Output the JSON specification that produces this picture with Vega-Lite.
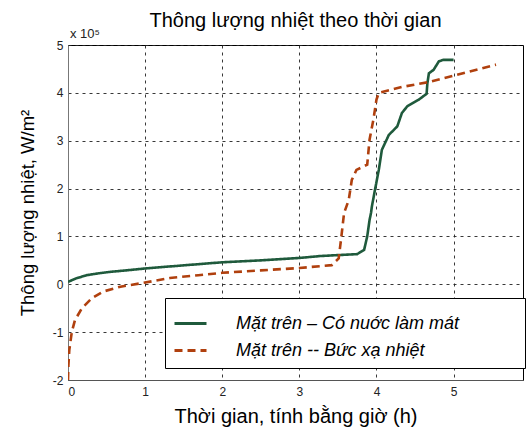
{
  "$schema": "https://vega.github.io/schema/vega-lite/v6.json",
  "width": 455,
  "height": 335,
  "autosize": "none",
  "padding": {"left": 68, "top": 45, "right": 5, "bottom": 55},
  "config": {
    "font": "Liberation Sans",
    "view": {"stroke": "#000", "strokeWidth": 1}
  },
  "title": {"text": "Thông lượng nhiệt theo thời gian", "fontSize": 20, "fontWeight": "normal", "color": "#000", "anchor": "middle", "offset": -3},
  "layer": [
    {
      "data": {"values": [
        {"t": 0, "q": 5000, "s": "Mặt trên – Có nuớc làm mát"},
        {"t": 0.1, "q": 12000, "s": "Mặt trên – Có nuớc làm mát"},
        {"t": 0.24, "q": 19000, "s": "Mặt trên – Có nuớc làm mát"},
        {"t": 0.4, "q": 23000, "s": "Mặt trên – Có nuớc làm mát"},
        {"t": 0.55, "q": 26000, "s": "Mặt trên – Có nuớc làm mát"},
        {"t": 0.75, "q": 29000, "s": "Mặt trên – Có nuớc làm mát"},
        {"t": 1.0, "q": 33000, "s": "Mặt trên – Có nuớc làm mát"},
        {"t": 1.3, "q": 37000, "s": "Mặt trên – Có nuớc làm mát"},
        {"t": 1.69, "q": 42000, "s": "Mặt trên – Có nuớc làm mát"},
        {"t": 2.0, "q": 46000, "s": "Mặt trên – Có nuớc làm mát"},
        {"t": 2.5, "q": 50000, "s": "Mặt trên – Có nuớc làm mát"},
        {"t": 3.0, "q": 55000, "s": "Mặt trên – Có nuớc làm mát"},
        {"t": 3.27, "q": 59000, "s": "Mặt trên – Có nuớc làm mát"},
        {"t": 3.5, "q": 61000, "s": "Mặt trên – Có nuớc làm mát"},
        {"t": 3.75, "q": 63000, "s": "Mặt trên – Có nuớc làm mát"},
        {"t": 3.84, "q": 72000, "s": "Mặt trên – Có nuớc làm mát"},
        {"t": 3.88, "q": 100000, "s": "Mặt trên – Có nuớc làm mát"},
        {"t": 3.91, "q": 134000, "s": "Mặt trên – Có nuớc làm mát"},
        {"t": 3.93, "q": 150000, "s": "Mặt trên – Có nuớc làm mát"},
        {"t": 3.94, "q": 162000, "s": "Mặt trên – Có nuớc làm mát"},
        {"t": 3.98, "q": 197000, "s": "Mặt trên – Có nuớc làm mát"},
        {"t": 4.03, "q": 239000, "s": "Mặt trên – Có nuớc làm mát"},
        {"t": 4.07, "q": 281000, "s": "Mặt trên – Có nuớc làm mát"},
        {"t": 4.16, "q": 312000, "s": "Mặt trên – Có nuớc làm mát"},
        {"t": 4.27, "q": 330000, "s": "Mặt trên – Có nuớc làm mát"},
        {"t": 4.33, "q": 358000, "s": "Mặt trên – Có nuớc làm mát"},
        {"t": 4.4, "q": 372000, "s": "Mặt trên – Có nuớc làm mát"},
        {"t": 4.55, "q": 386000, "s": "Mặt trên – Có nuớc làm mát"},
        {"t": 4.65, "q": 398000, "s": "Mặt trên – Có nuớc làm mát"},
        {"t": 4.66, "q": 420000, "s": "Mặt trên – Có nuớc làm mát"},
        {"t": 4.68, "q": 441000, "s": "Mặt trên – Có nuớc làm mát"},
        {"t": 4.74, "q": 448000, "s": "Mặt trên – Có nuớc làm mát"},
        {"t": 4.81, "q": 466000, "s": "Mặt trên – Có nuớc làm mát"},
        {"t": 4.87, "q": 469000, "s": "Mặt trên – Có nuớc làm mát"},
        {"t": 5.0, "q": 469000, "s": "Mặt trên – Có nuớc làm mát"},
        {"t": 0, "q": -200000, "s": "Mặt trên -- Bức xạ nhiệt"},
        {"t": 0.005, "q": -170000, "s": "Mặt trên -- Bức xạ nhiệt"},
        {"t": 0.017, "q": -137000, "s": "Mặt trên -- Bức xạ nhiệt"},
        {"t": 0.05, "q": -99000, "s": "Mặt trên -- Bức xạ nhiệt"},
        {"t": 0.09, "q": -75000, "s": "Mặt trên -- Bức xạ nhiệt"},
        {"t": 0.18, "q": -50000, "s": "Mặt trên -- Bức xạ nhiệt"},
        {"t": 0.31, "q": -29000, "s": "Mặt trên -- Bức xạ nhiệt"},
        {"t": 0.46, "q": -15000, "s": "Mặt trên -- Bức xạ nhiệt"},
        {"t": 0.68, "q": -5000, "s": "Mặt trên -- Bức xạ nhiệt"},
        {"t": 0.98, "q": 3000, "s": "Mặt trên -- Bức xạ nhiệt"},
        {"t": 1.32, "q": 13000, "s": "Mặt trên -- Bức xạ nhiệt"},
        {"t": 1.69, "q": 19000, "s": "Mặt trên -- Bức xạ nhiệt"},
        {"t": 2.0, "q": 24000, "s": "Mặt trên -- Bức xạ nhiệt"},
        {"t": 2.5, "q": 29000, "s": "Mặt trên -- Bức xạ nhiệt"},
        {"t": 3.0, "q": 34000, "s": "Mặt trên -- Bức xạ nhiệt"},
        {"t": 3.42, "q": 40000, "s": "Mặt trên -- Bức xạ nhiệt"},
        {"t": 3.51, "q": 54000, "s": "Mặt trên -- Bức xạ nhiệt"},
        {"t": 3.54, "q": 93000, "s": "Mặt trên -- Bức xạ nhiệt"},
        {"t": 3.58, "q": 149000, "s": "Mặt trên -- Bức xạ nhiệt"},
        {"t": 3.64, "q": 176000, "s": "Mặt trên -- Bức xạ nhiệt"},
        {"t": 3.68, "q": 218000, "s": "Mặt trên -- Bức xạ nhiệt"},
        {"t": 3.74, "q": 239000, "s": "Mặt trên -- Bức xạ nhiệt"},
        {"t": 3.88, "q": 250000, "s": "Mặt trên -- Bức xạ nhiệt"},
        {"t": 3.91, "q": 302000, "s": "Mặt trên -- Bức xạ nhiệt"},
        {"t": 3.96, "q": 344000, "s": "Mặt trên -- Bức xạ nhiệt"},
        {"t": 4.0, "q": 386000, "s": "Mặt trên -- Bức xạ nhiệt"},
        {"t": 4.03, "q": 400000, "s": "Mặt trên -- Bức xạ nhiệt"},
        {"t": 4.35, "q": 413000, "s": "Mặt trên -- Bức xạ nhiệt"},
        {"t": 4.66, "q": 422000, "s": "Mặt trên -- Bức xạ nhiệt"},
        {"t": 5.0, "q": 436000, "s": "Mặt trên -- Bức xạ nhiệt"},
        {"t": 5.55, "q": 459000, "s": "Mặt trên -- Bức xạ nhiệt"}
      ]},
      "mark": {"type": "line", "strokeWidth": 2.6, "clip": true},
      "encoding": {
        "x": {"field": "t", "type": "quantitative",
          "scale": {"domain": [0, 5.9], "nice": false, "zero": false},
          "axis": {"title": "Thời gian, tính bằng giờ (h)", "values": [0, 1, 2, 3, 4, 5], "format": "d",
            "titleFontSize": 20, "titleFontWeight": "normal", "titleColor": "#000", "titlePadding": 9,
            "labelFontSize": 12, "labelColor": "#222", "labelPadding": 6, "ticks": false,
            "domainColor": "#555", "gridColor": "#222", "gridDash": [3, 4], "gridOpacity": 0.9}},
        "y": {"field": "q", "type": "quantitative",
          "scale": {"domain": [-200000, 500000], "nice": false, "zero": false},
          "axis": {"title": "Thông lượng nhiệt, W/m²", "values": [-200000, -100000, 0, 100000, 200000, 300000, 400000, 500000],
            "labelExpr": "'' + (datum.value / 100000)",
            "titleFontSize": 18.5, "titleFontWeight": "normal", "titleColor": "#000", "titlePadding": 15,
            "labelFontSize": 12, "labelColor": "#222", "labelPadding": 5, "ticks": false,
            "domainColor": "#777", "gridColor": "#222", "gridDash": [3, 4], "gridOpacity": 0.9}},
        "color": {"field": "s", "type": "nominal",
          "scale": {"domain": ["Mặt trên – Có nuớc làm mát", "Mặt trên -- Bức xạ nhiệt"], "range": ["#1f5a3c", "#b0400e"]},
          "legend": {"orient": "none", "legendX": 97, "legendY": 253, "title": "\u00a0", "titleOrient": "right", "titlePadding": 58,
            "symbolType": "stroke", "symbolSize": 1024, "symbolStrokeWidth": 3, "labelOffset": 28,
            "labelFontSize": 18, "labelFontStyle": "italic", "labelColor": "#000", "labelLimit": 400,
            "rowPadding": 0, "padding": 8, "fillColor": "#fff", "strokeColor": "#000", "cornerRadius": 0}},
        "strokeDash": {"field": "s", "type": "nominal",
          "scale": {"domain": ["Mặt trên – Có nuớc làm mát", "Mặt trên -- Bức xạ nhiệt"], "range": [[1, 0], [8, 5]]},
          "legend": {"orient": "none", "legendX": 97, "legendY": 253, "title": "\u00a0", "titleOrient": "right", "titlePadding": 58,
            "symbolType": "stroke", "symbolSize": 1024, "symbolStrokeWidth": 3, "labelOffset": 28,
            "labelFontSize": 18, "labelFontStyle": "italic", "labelColor": "#000", "labelLimit": 400,
            "rowPadding": 0, "padding": 8, "fillColor": "#fff", "strokeColor": "#000", "cornerRadius": 0}}
      }
    },
    {
      "data": {"values": [{"t": 0, "q": 500000, "label": "x 10⁵"}]},
      "mark": {"type": "text", "align": "left", "baseline": "bottom", "dx": 2, "dy": -4, "fontSize": 13, "color": "#222"},
      "encoding": {
        "x": {"field": "t", "type": "quantitative"},
        "y": {"field": "q", "type": "quantitative"},
        "text": {"field": "label"}
      }
    }
  ]
}
